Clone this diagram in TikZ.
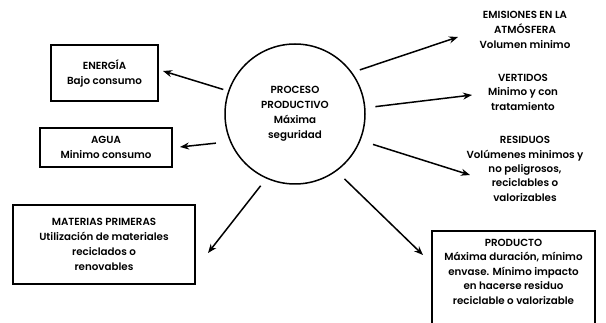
\documentclass[tikz,border=0pt]{standalone}
\usepackage{fontspec}
\setmainfont{Poppins}[UprightFont=* SemiBold, BoldFont=* Bold]
\usetikzlibrary{arrows.meta}
\tikzset{
  box/.style={draw, line width=1.7pt, align=center, inner sep=0pt},
  arr/.style={line width=1.5pt, -{Stealth[length=9pt,width=7pt]}},
  txt/.style={align=center, inner sep=0pt},
  every node/.style={font=\fontsize{10.3}{15}\selectfont}
}
\begin{document}
\begin{tikzpicture}[x=1pt,y=-1pt]
\useasboundingbox (0,0) rectangle (606,323);
\node[draw, circle, line width=1.5pt, minimum size=140pt, align=center, inner sep=0pt] (circ) at (295,114)
  {PROCESO\\PRODUCTIVO\\Máxima\\seguridad};
\node[box, minimum width=107pt, minimum height=56pt] (ener) at (104.5,73) {ENERGÍA\\Bajo consumo};
\node[box, minimum width=132pt, minimum height=39pt] (agua) at (106,147.5) {AGUA\\Minimo consumo};
\node[box, minimum width=182pt, minimum height=79pt] (mat) at (104,244.5)
  {MATERIAS PRIMERAS\\Utilización de materiales\\reciclados o\\renovables};
\node[box, anchor=north, minimum width=163pt, inner ysep=8pt,
      font=\fontsize{10.3}{14.5}\selectfont] (prod) at (513.5,230)
  {PRODUCTO\\Máxima duración, mínimo\\envase. Mínimo impacto\\en hacerse residuo\\reciclable o valorizable\\ \mbox{}};
\node[txt, font=\fontsize{10.3}{14.8}\selectfont] (emis) at (525,30) {EMISIONES EN LA\\ATMÓSFERA\\Volumen minimo};
\node[txt, font=\fontsize{10.3}{14.5}\selectfont] (vert) at (523,92) {VERTIDOS\\Minimo y con\\tratamiento};
\node[txt, font=\fontsize{10.3}{14.3}\selectfont] (resid) at (525,169) {RESIDUOS\\Volúmenes minimos y\\no peligrosos,\\reciclables o\\valorizables};
\coordinate (tEn) at (163,71);
\coordinate (tAg) at (180,147);
\coordinate (tMa) at (208,253);
\coordinate (tPr) at (423,255);
\coordinate (tEm) at (458,37);
\coordinate (tVe) at (472,95);
\coordinate (tRe) at (470,175);
\draw[arr, shorten <=5pt] (circ.161) -- (tEn);
\draw[arr, shorten <=14pt] (circ.-157) -- (tAg);
\draw[arr, shorten <=9pt] (circ.-114.6) -- (tMa);
\draw[arr, shorten <=11pt] (circ.-54) -- (tPr);
\draw[arr, shorten <=8pt] (circ.36) -- (tEm);
\draw[arr, shorten <=10pt] (circ.5) -- (tVe);
\draw[arr, shorten <=13pt] (circ.-22) -- (tRe);
\end{tikzpicture}
\end{document}
